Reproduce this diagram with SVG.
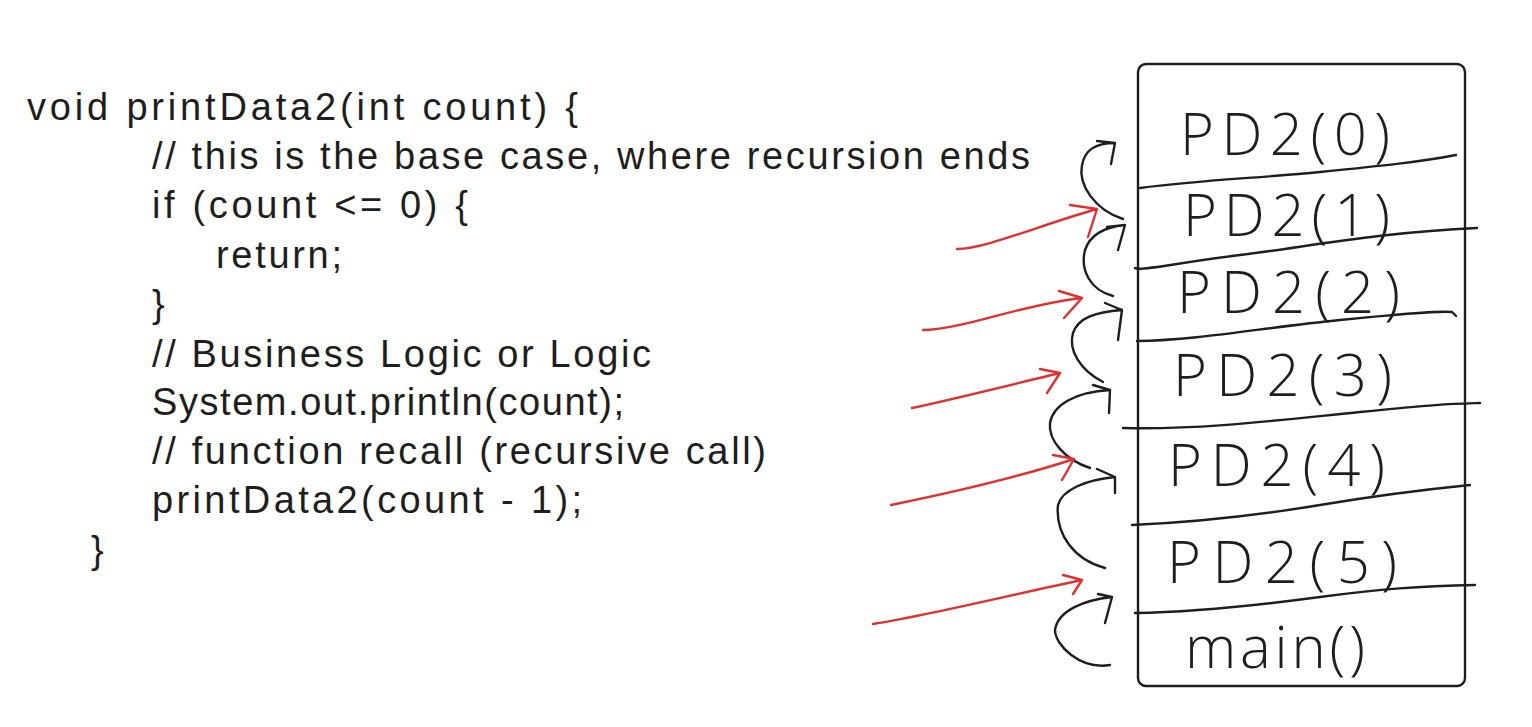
<svg xmlns="http://www.w3.org/2000/svg" width="1532" height="727" viewBox="0 0 1532 727">
<style>
.code{font-family:"Liberation Sans","DejaVu Sans",sans-serif;font-size:38px;fill:#1e1e1e}
.lbl{font-family:"Open Sans","Liberation Sans",sans-serif;font-weight:300;font-size:58px;fill:#1e1e1e}
.ink{fill:none;stroke:#1e1e1e;stroke-width:2.4;stroke-linecap:round;stroke-linejoin:round}
.red{fill:none;stroke:#e03131;stroke-width:2.4;stroke-linecap:round;stroke-linejoin:round}
</style>
<rect width="1532" height="727" fill="#ffffff"/>
<g id="code">
<text class="code" x="27" y="120" textLength="551" lengthAdjust="spacing">void printData2(int count) {</text>
<text class="code" x="152" y="169" textLength="878" lengthAdjust="spacing">// this is the base case, where recursion ends</text>
<text class="code" x="152" y="218" textLength="316" lengthAdjust="spacing">if (count &lt;= 0) {</text>
<text class="code" x="216" y="268" textLength="126" lengthAdjust="spacing">return;</text>
<text class="code" x="152" y="317">}</text>
<text class="code" x="152" y="367" textLength="499" lengthAdjust="spacing">// Business Logic or Logic</text>
<text class="code" x="152" y="415" textLength="472" lengthAdjust="spacing">System.out.println(count);</text>
<text class="code" x="152" y="464" textLength="614" lengthAdjust="spacing">// function recall (recursive call)</text>
<text class="code" x="152" y="513" textLength="430" lengthAdjust="spacing">printData2(count - 1);</text>
<text class="code" x="91" y="563">}</text>
</g>
<g id="stack">
<rect class="ink" x="1138" y="64" width="327" height="622" rx="8" stroke-width="1.8"/>
<path class="ink" d="M1140,188 C1200,180 1260,178 1320,172 S1420,162 1456,155"/>
<path class="ink" d="M1135,268 C1140,272 1180,262 1240,255 S1380,232 1477,228"/>
<path class="ink" d="M1137,341 C1200,340 1260,328 1340,320 S1440,311 1452,312 L1456,316"/>
<path class="ink" d="M1123,428 C1200,430 1280,420 1360,412 S1450,404 1480,403"/>
<path class="ink" d="M1132,525 C1200,522 1260,515 1320,505 S1420,490 1470,485"/>
<path class="ink" d="M1135,613 C1200,612 1260,605 1320,597 S1420,586 1475,585"/>
</g>
<g id="frame-pd2-0"><text class="lbl" x="1180" y="155" textLength="210" lengthAdjust="spacing">PD2(0)</text></g>
<g id="frame-pd2-1"><text class="lbl" x="1183" y="236" textLength="207" lengthAdjust="spacing">PD2(1)</text></g>
<g id="frame-pd2-2"><text class="lbl" x="1177" y="313" textLength="223" lengthAdjust="spacing">PD2(2)</text></g>
<g id="frame-pd2-3"><text class="lbl" x="1173" y="396" textLength="219" lengthAdjust="spacing">PD2(3)</text></g>
<g id="frame-pd2-4"><text class="lbl" x="1168" y="486" textLength="217" lengthAdjust="spacing">PD2(4)</text></g>
<g id="frame-pd2-5"><text class="lbl" x="1167" y="583" textLength="230" lengthAdjust="spacing">PD2(5)</text></g>
<g id="frame-main"><text class="lbl" x="1185" y="668" textLength="180" lengthAdjust="spacing">main()</text></g>
<g id="connectors">
<path class="ink" d="M1123,219 C1095,210 1078,185 1082,165 C1085,150 1095,143 1115,143 M1097,141 L1115,143 L1111,164"/>
<path class="ink" d="M1113,296 C1090,290 1080,270 1085,250 C1090,235 1105,227 1125,225 M1107,227 L1125,225 L1118,250"/>
<path class="ink" d="M1103,382 C1080,370 1068,350 1073,333 C1078,318 1095,312 1122,310 M1105,303 L1122,310 L1118,340"/>
<path class="ink" d="M1090,468 C1065,460 1048,440 1050,423 C1053,405 1075,392 1110,390 M1093,385 L1110,390 L1109,413"/>
<path class="ink" d="M1105,568 C1075,560 1055,535 1058,505 C1062,490 1085,480 1115,477 M1097,469 L1115,477 L1115,493"/>
<path class="ink" d="M1110,665 C1080,670 1055,645 1055,630 C1058,610 1085,600 1112,597 M1098,594 L1112,597 L1105,623"/>
<path class="red" d="M957,249 C985,249 1040,225 1097,209 M1070,205 L1097,209 L1088,237"/>
<path class="red" d="M923,330 C960,330 1020,305 1082,298 M1059,291 L1082,298 L1064,318"/>
<path class="red" d="M912,408 C950,400 1010,385 1060,373 M1040,369 L1060,373 L1047,393"/>
<path class="red" d="M891,505 C940,495 1010,480 1074,459 M1053,455 L1074,459 L1062,480"/>
<path class="red" d="M873,624 C930,615 1010,595 1082,580 M1063,575 L1082,580 L1073,594"/>
</g>
</svg>
